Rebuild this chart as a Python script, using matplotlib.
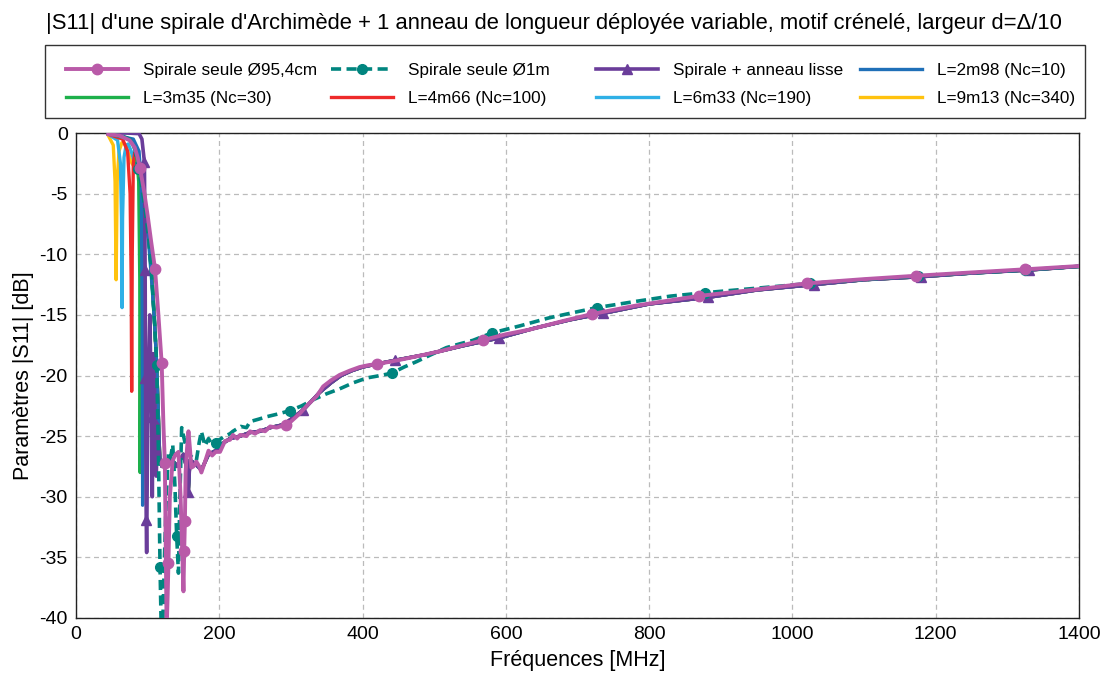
import numpy as np
import matplotlib
matplotlib.use("Agg")
import matplotlib.pyplot as plt
from matplotlib.patches import Rectangle

plt.rcParams['font.family'] = ['Liberation Sans', 'DejaVu Sans']
plt.rcParams['axes.unicode_minus'] = False

title = "|S11| d'une spirale d'Archimède + 1 anneau de longueur déployée variable, motif crénelé, largeur d=Δ/10"
xlabel = "Fréquences [MHz]"
ylabel = "Paramètres |S11| [dB]"

# ---- Spirale seule Ø95,4cm (pink) ----
pink_f = [45, 60, 75, 82, 86, 89.3, 95, 100, 105, 110.3, 115, 119.6, 122, 124, 126.5, 128, 129, 131,
          135, 139, 143, 146, 148, 150, 151, 152, 153, 155, 157, 159, 161, 164, 168, 172, 175, 179,
          185, 190, 195, 201, 208, 215, 219, 225, 229, 238, 243, 250, 257, 264, 271, 280, 293, 300,
          313, 322, 336, 345, 356, 368, 382, 396, 408, 419.7, 440, 461, 485, 508, 540, 568.6, 600,
          634, 680, 720, 780, 869, 950, 1020, 1100, 1173, 1250, 1325, 1400]
pink_db = [-0.1, -0.2, -0.6, -1.2, -2.0, -2.9, -4.8, -6.8, -9.0, -11.2, -15.0, -19.0, -24.0, -27.2, -41.0, -38.0, -35.5, -30.0,
           -27.0, -26.5, -26.3, -30.0, -34.0, -37.8, -34.5, -32.0, -28.0, -26.0, -24.6, -26.0, -27.6, -27.5, -27.1, -27.5, -28.0, -27.3,
           -26.2, -26.6, -26.3, -26.3, -25.4, -25.3, -24.9, -25.2, -24.9, -25.0, -24.6, -24.8, -24.5, -24.6, -24.2, -24.3, -24.05, -23.8,
           -23.1, -22.5, -21.7, -20.9, -20.4, -19.95, -19.6, -19.3, -19.15, -19.05, -18.85, -18.6, -18.3, -18.0, -17.5, -17.07, -16.6,
           -16.2, -15.5, -14.93, -14.25, -13.44, -12.9, -12.4, -12.05, -11.77, -11.5, -11.24, -10.97]
pink_marks = [89.3, 110.3, 119.6, 124, 129, 151, 152, 293, 419.7, 568.6, 720, 869, 1020, 1173, 1325]

# ---- Spirale seule Ø1m (teal, dashed) ----
teal_f = [45, 60, 75, 82, 87, 92, 97, 102, 106, 110, 112.6, 115, 117.3, 119, 121, 123, 126, 129, 132,
          135, 138, 140.5, 143, 145, 147.5, 152, 158, 163, 168, 172, 175, 180, 185, 189, 196, 200, 208,
          215, 219, 230, 238, 243, 255, 266, 280, 298.7, 315, 331, 350, 368, 387, 406, 425, 441, 458,
          475.5, 495, 517, 535, 554, 580, 620, 660, 695, 727, 780, 830, 878, 950, 1025, 1100, 1175,
          1250, 1325, 1400]
teal_db = [-0.05, -0.15, -0.5, -1.3, -3.0, -4.5, -6.5, -9.0, -12.0, -16.0, -19.1, -26.0, -35.8, -41.0, -41.0, -36.0, -30.0, -26.4, -26.8,
           -25.7, -29.0, -33.2, -36.3, -30.0, -24.3, -25.5, -26.5, -26.8, -27.0, -25.5, -24.6, -25.8, -25.2, -25.6, -25.6, -25.3, -25.0,
           -24.8, -24.6, -24.2, -24.3, -23.8, -23.6, -23.4, -23.2, -22.9, -22.5, -22.0, -21.5, -21.1, -20.6, -20.2, -20.0, -19.8, -19.3,
           -18.85, -18.3, -17.7, -17.4, -17.1, -16.5, -15.9, -15.25, -14.8, -14.4, -13.9, -13.45, -13.17, -12.8, -12.4, -12.1, -11.8,
           -11.55, -11.3, -11.0]
teal_marks = [87, 112.6, 117.3, 140.5, 196, 298.7, 441, 580, 727, 878, 1025, 1175, 1325]

# ---- Spirale + anneau lisse (purple) ----
purple_f = [45, 70, 88, 92, 95.5, 96.5, 97, 97.5, 98, 98.6, 99.5, 101, 103, 105.6, 106.5, 107.5, 108, 110,
            112, 114, 117, 120, 125, 130, 135, 140, 145, 150, 154, 156.7, 159, 165, 175, 185, 195, 205,
            215, 229, 243, 257, 271, 290, 317, 340, 356, 370, 385, 400, 420, 445, 490, 540, 591, 640, 690, 736, 800,
            882.6, 950, 1030, 1100, 1180, 1250, 1330, 1400]
purple_db = [0.0, 0.0, -0.05, -0.5, -2.4, -11.3, -20.2, -26.8, -31.9, -34.6, -28.0, -20.0, -15.0, -23.4, -30.0, -23.0, -18.2, -22.0,
             -28.3, -24.0, -27.0, -27.5, -27.2, -26.8, -27.0, -27.5, -27.0, -26.5, -27.5, -29.6, -27.0, -27.2, -27.8, -26.5, -26.2, -25.6,
             -25.2, -25.0, -24.7, -24.6, -24.3, -24.05, -22.85, -21.4, -20.6, -20.0, -19.6, -19.3, -19.05, -18.75, -18.25, -17.55, -16.9, -16.1, -15.4, -14.87, -14.1,
             -13.55, -12.95, -12.5, -12.1, -11.85, -11.55, -11.3, -11.0]
purple_marks = [95.5, 96.5, 97, 98, 105.6, 156.7, 317, 445, 591, 736, 882.6, 1030, 1180, 1330]

# ---- Ring with crenellated pattern, low-frequency parts (rest follows the smooth-ring curve) ----
common_f = [87, 92, 97, 102, 106, 110, 112.6]
common_db = [-3.2, -4.5, -6.5, -9.0, -12.0, -16.0, -19.1]

l298_f = [45, 80, 88, 91, 92.5, 93, 93.7, 95, 97.5, 102, 106, 110, 112.6]
l298_db = [-0.05, -0.5, -1.5, -4.0, -15.0, -30.7, -15.0, -6.0, -6.5, -9.5, -12.5, -16.0, -19.1]

l335_f = [45, 75, 84, 87.5, 89, 89.5, 90.5, 92, 94]
l335_db = [-0.05, -0.5, -1.5, -4.0, -12.0, -28.0, -12.0, -4.0, -3.5]

l466_f = [45, 65, 72, 75.5, 77, 77.7, 78.5, 80, 82, 85]
l466_db = [-0.1, -0.5, -1.5, -5.0, -12.0, -21.3, -10.0, -2.5, -1.6, -2.2]

l633_f = [45, 58, 62, 63.5, 64.3, 65, 67, 70, 73, 77, 82]
l633_db = [-0.1, -0.6, -2.5, -7.0, -14.4, -7.0, -2.0, -1.0, -0.9, -1.5, -2.5]

l913_f = [45, 52, 54.5, 56, 57.5, 60, 64, 68, 72, 78, 84]
l913_db = [-0.2, -1.0, -4.0, -12.1, -4.0, -1.5, -0.8, -0.9, -1.5, -2.5, -3.0]

labels = ["Spirale seule Ø95,4cm", "Spirale seule Ø1m", "Spirale + anneau lisse", "L=2m98 (Nc=10)",
          "L=3m35 (Nc=30)", "L=4m66 (Nc=100)", "L=6m33 (Nc=190)", "L=9m13 (Nc=340)"]
colors = ['#B95AA8', '#00857F', '#6A3D9A', '#1F70B8', '#1DB04B', '#EE2A2A', '#2FB0E6', '#FFC20E']

xticks = [0, 200, 400, 600, 800, 1000, 1200, 1400]
yticks = [0, -5, -10, -15, -20, -25, -30, -35, -40]

fig = plt.figure(figsize=(11.08, 6.78), dpi=100)
ax = fig.add_axes([0.0686, 0.0885, 0.9052, 0.7153])

pf = np.array(purple_f)
pdb = np.array(purple_db)
tail_mask = pf >= 117


def full_curve(lf, ldb):
    f = list(lf)
    d = list(ldb)
    for cf, cd in zip(common_f, common_db):
        if cf > f[-1]:
            f.append(cf)
            d.append(cd)
    return np.concatenate([f, pf[tail_mask]]), np.concatenate([d, pdb[tail_mask]])


lcurves = [(l298_f, l298_db), (l335_f, l335_db), (l466_f, l466_db), (l633_f, l633_db), (l913_f, l913_db)]
handles = [None] * 8
for i, (lf, ldb) in enumerate(lcurves):
    f, d = full_curve(lf, ldb)
    h, = ax.plot(f, d, color=colors[3 + i], lw=2.4, zorder=2 + (4 - i) * 0.1, label=labels[3 + i])
    handles[3 + i] = h


def idx(fl, marks):
    return [fl.index(m) for m in marks]


h, = ax.plot(purple_f, purple_db, color=colors[2], lw=2.6, marker='^', ms=7,
             markevery=idx(purple_f, purple_marks), zorder=3, label=labels[2])
handles[2] = h
h, = ax.plot(teal_f, teal_db, color=colors[1], lw=2.6, ls=(0, (2.8, 1.5)), marker='o', ms=7,
             markevery=idx(teal_f, teal_marks), zorder=4, label=labels[1])
handles[1] = h
h, = ax.plot(pink_f, pink_db, color=colors[0], lw=2.8, marker='o', ms=7.5,
             markevery=idx(pink_f, pink_marks), zorder=5, label=labels[0])
handles[0] = h

ax.set_xlim(0, 1400)
ax.set_ylim(-40, 0)
ax.set_xticks(xticks)
ax.set_yticks(yticks)
ax.tick_params(labelsize=14, length=0, pad=6)
ax.grid(True, ls=(0, (4, 3)), color='#BBBBBB', lw=0.9)
for s in ax.spines.values():
    s.set_color('#222222')
    s.set_linewidth(1.0)
ax.set_xlabel(xlabel, fontsize=15.5, labelpad=5)
ax.set_ylabel(ylabel, fontsize=15.5, labelpad=4)

fig.text(0.5, 0.965, title, ha='center', va='center', fontsize=15.8)

# legend: 4 equally spaced columns, row-wise order, inside one frame
W, H = 1108.0, 678.0
col_x = [66, 331, 596, 860]
for k in range(4):
    hs = [handles[k], handles[k + 4]]
    ls_ = [labels[k], labels[k + 4]]
    lg = fig.legend(handles=hs, labels=ls_, loc='center left',
                    bbox_to_anchor=(col_x[k] / W, 1 - 84.5 / H), fontsize=12.3,
                    handlelength=3.6, handletextpad=0.9, borderpad=0.0, borderaxespad=0.0,
                    labelspacing=0.75, frameon=False)
fig.add_artist(Rectangle((45 / W, 1 - 118 / H), 1040 / W, 73 / H, transform=fig.transFigure,
                         fill=False, edgecolor='#333333', lw=1.0))

fig.savefig("out.png", dpi=100)
